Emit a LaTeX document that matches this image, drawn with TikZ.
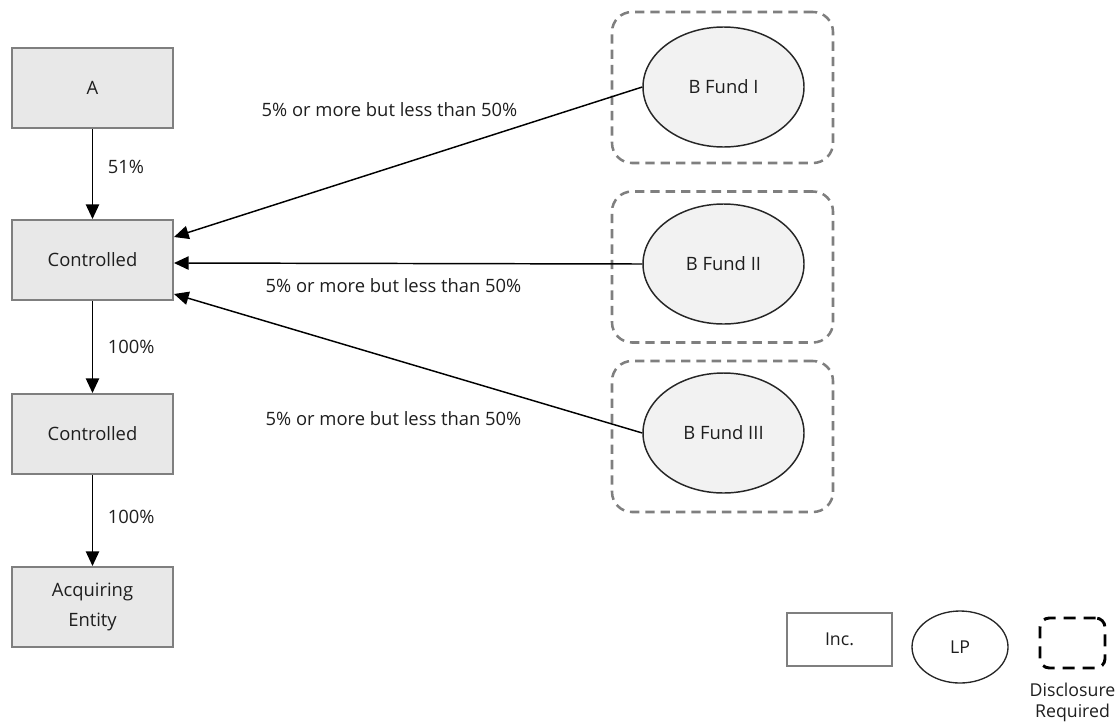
\documentclass[tikz,border=0pt]{standalone}
\usepackage{fontspec}
\setmainfont{Open Sans}
\usetikzlibrary{arrows.meta,calc,shapes.geometric}

\definecolor{boxfill}{HTML}{E8E8E8}
\definecolor{boxline}{HTML}{7F7F7F}
\definecolor{lpfill}{HTML}{F2F2F2}
\definecolor{inkgray}{HTML}{1E1E1E}

\begin{document}
\begin{tikzpicture}[
  x=0.75pt, y=-0.75pt,
  every node/.style={text=inkgray, font=\fontsize{13.8}{22}\selectfont},
  entity/.style={draw=boxline, line width=1.5pt, fill=boxfill,
    minimum width=120.75pt, minimum height=60pt, inner sep=2pt, align=center},
  fund/.style={ellipse, draw=black!85, line width=1.1pt, fill=lpfill,
    minimum width=120.75pt, minimum height=90pt, inner sep=0pt},
  disclose/.style={draw=boxline, line width=1.9pt, dash pattern=on 7pt off 4.5pt,
    rounded corners=15pt, minimum width=165.75pt, minimum height=113.25pt},
  own/.style={draw=black, line width=1.1pt,
    -{Triangle[length=11pt, width=10pt]}},
  pct/.style={inner sep=0pt},
  legendtxt/.style={font=\fontsize{13.3}{15.75}\selectfont},
]
\useasboundingbox (0,0) rectangle (1119,725);

% ownership chain
\node[entity] (a)  at (92.5,88)  {A};
\node[entity] (c1) at (92.5,260) {Controlled};
\node[entity] (c2) at (92.5,434) {Controlled};
\node[entity] (ae) at (92.5,607) {Acquiring\\Entity};

\draw[own] (a)  -- node[pct, pos=.42, right=11pt] {51\%}  (c1);
\draw[own] (c1) -- node[pct, midway, right=11pt] {100\%} (c2);
\draw[own] (c2) -- node[pct, pos=.46, right=11pt] {100\%} (ae);

% funds inside their disclosure boundaries
\node[disclose] (d1) at (722.5,87.5)  {};
\node[disclose] (d2) at (722.5,267)   {};
\node[disclose] (d3) at (722.5,436.5) {};
\node[fund] (f1) at (723.5,87)  {B Fund I};
\node[fund] (f2) at (723.5,264) {B Fund II};
\node[fund] (f3) at (723.5,433) {B Fund III};

\draw[own] (f1.west) -- ($(c1.east)+(0,-23)$);
\draw[own] (f2.west) -- ($(c1.east)+(0,3)$);
\draw[own] (f3.west) -- ($(c1.east)+(0,34)$);

\node[pct] (l1) at (389.5,110) {5\% or more but less than 50\%};
\node[pct] (l2) at (393.5,286) {5\% or more but less than 50\%};
\node[pct] (l3) at (393.5,419) {5\% or more but less than 50\%};

% legend
\node[draw=boxline, line width=1.5pt, minimum width=78.75pt, minimum height=39.75pt,
  legendtxt] (kinc) at (839.5,639.5) {Inc.};
\node[ellipse, draw=black!85, line width=1pt, minimum width=72pt, minimum height=54pt,
  inner sep=0pt, legendtxt] (klp) at (960,647) {LP};
\node[draw=black, line width=2.2pt, dash pattern=on 9pt off 6pt, rounded corners=7pt,
  minimum width=48.75pt, minimum height=37.5pt] (kdisc) at (1072.5,643) {};
\node[legendtxt, align=center, anchor=north, inner sep=0pt] (kdisctxt)
  at ($(kdisc.south)+(0,13)$) {Disclosure\\Required};
\end{tikzpicture}
\end{document}
